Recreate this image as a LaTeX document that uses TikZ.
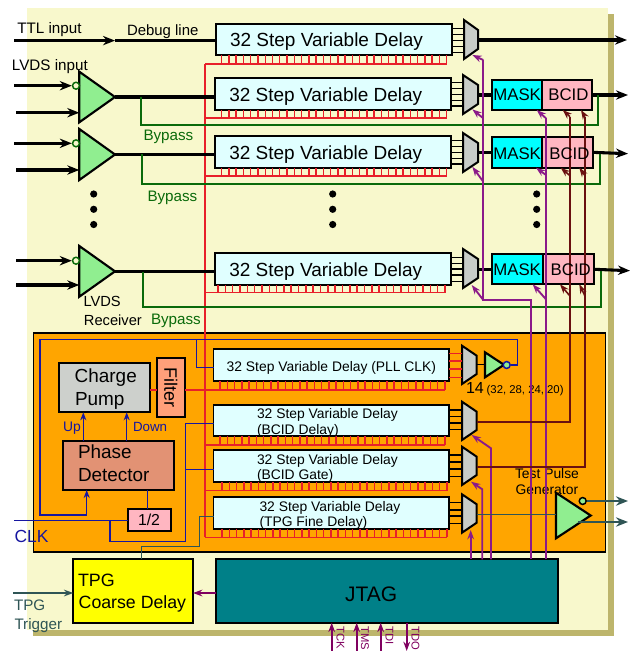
\documentclass[tikz,border=0pt]{standalone}
\usepackage{fontspec}
\setmainfont{Liberation Sans}
\usetikzlibrary{arrows.meta,calc}
\definecolor{bgy}{HTML}{F8F8CC}
\definecolor{khak}{HTML}{BDB56C}
\definecolor{orng}{HTML}{FFA500}
\definecolor{dly}{HTML}{E0FFFF}
\definecolor{muxg}{HTML}{C8CCC8}
\definecolor{lgr}{HTML}{90EE90}
\definecolor{pnk}{HTML}{FFB6C1}
\definecolor{flt}{HTML}{FFA07A}
\definecolor{phs}{HTML}{E29274}
\definecolor{pump}{HTML}{CDD0CC}
\definecolor{redw}{HTML}{E8202A}
\definecolor{grnw}{HTML}{0A6A0A}
\definecolor{navyw}{HTML}{1616A0}
\definecolor{purw}{HTML}{8B1A89}
\definecolor{purd}{HTML}{800060}
\definecolor{brnw}{HTML}{6A1010}
\definecolor{slat}{HTML}{2F5555}
\definecolor{cyn}{HTML}{00FFFF}
\definecolor{tealj}{HTML}{008088}
\definecolor{yel}{HTML}{FFFF00}
\newcommand{\fsz}[1]{\fontsize{#1}{#1}\selectfont}
\tikzset{
  x=0.75pt,y=-0.75pt,
  tbox/.style={draw=black,line width=1.3pt,inner sep=0pt,outer sep=0pt},
  tlab/.style={inner sep=0pt,outer sep=0pt,anchor=base west,text=black},
  bigw/.style={draw=black,line width=2.3pt},
  bigarr/.style={bigw,-{Stealth[length=9pt,width=7pt]}},
  rline/.style={draw=redw,line width=1.1pt},
  gline/.style={draw=grnw,line width=1.4pt},
  nline/.style={draw=navyw,line width=1.1pt},
  narr/.style={nline,-{Stealth[length=6pt,width=4.5pt]}},
  pline/.style={draw=purw,line width=1.4pt},
  parr/.style={pline,-{Stealth[length=7pt,width=5pt]}},
  bline/.style={draw=brnw,line width=1.2pt},
  barr/.style={bline,-{Stealth[length=7pt,width=5pt]}},
  sline/.style={draw=slat,line width=1.1pt},
  muxline/.style={draw=black,line width=0.9pt},
  muxshape/.style={draw=black,line width=1.5pt,fill=muxg,line join=miter},
  tri/.style={draw=black,line width=1.6pt,fill=lgr,line join=miter},
  dotn/.style={circle,fill=black,inner sep=0pt,minimum size=5.4pt},
}
\newcommand{\pbox}[6]{\node[tbox,#6,minimum width={(#4-#2)*0.75pt},minimum height={(#5-#3)*0.75pt}] (#1) at ({(#2+#4)/2},{(#3+#5)/2}) {};}
\newcommand{\muxn}[5]{\node[inner sep=0pt,outer sep=0pt,minimum width={(#3-#2)*0.75pt},minimum height={(#5-#4)*0.75pt}] (#1) at ({(#2+#3)/2},{(#4+#5)/2}) {};
  \draw[muxshape] (#2,#4) -- (#3,{#4+10}) -- (#3,{#5-10}) -- (#2,#5) -- cycle;}
\newcommand{\trin}[5]{\node[inner sep=0pt,outer sep=0pt,minimum width={(#3-#2)*0.75pt},minimum height={(#5-#4)*0.75pt}] (#1) at ({(#2+#3)/2},{(#4+#5)/2}) {};
  \draw[tri] (#2,#4) -- (#3,{(#4+#5)/2}) -- (#2,#5) -- cycle;}
\newcommand{\ladder}[4]{\foreach \i in {0,...,31}{\pgfmathsetmacro\xx{#3+\i*(#4-#3)/31}\draw[rline] (\xx,0 |- #1.south) -- (\xx,#2);}}
\newcommand{\tl}[5]{\node[tlab,#4] (#1) at (#2,#3) {#5};}
\newcommand{\bub}[4]{\node[circle,draw=#4,fill=#2,line width=1.1pt,inner sep=0pt,minimum size=5.2pt] (#1) at #3 {};}
\begin{document}
\begin{tikzpicture}
\useasboundingbox (0,0) rectangle (636,651);
\fill[white] (0,0) rectangle (636,651);
% panels
\fill[khak] (33,14) rectangle (614,636);
\fill[bgy] (27,8) rectangle (608,630);
\pbox{pll}{33.3}{333}{605.7}{552}{fill=orng,line width=1pt}
% coordinates
\coordinate (ttop) at (205,64);
\coordinate (tbot) at (205,537.3);
% delay boxes
\pbox{d1}{216}{24}{452}{55}{fill=dly}
\pbox{d2}{215}{78}{451}{110}{fill=dly}
\pbox{d3}{215}{136}{451}{168}{fill=dly}
\pbox{d4}{215}{253}{451}{285}{fill=dly}
\pbox{dp}{213.5}{349.3}{449.3}{381}{fill=dly}
\pbox{db}{213.5}{405}{449.3}{436.3}{fill=dly}
\pbox{dg}{213.5}{450.3}{449.3}{482.3}{fill=dly}
\pbox{dt}{213.5}{497.3}{449.3}{529.3}{fill=dly}
% red clock distribution
\draw[rline] (ttop) -- (tbot);
\foreach \n/\yy/\xa/\xb in {d1/64/221.7/446.7,d2/118/221.7/446.7,d3/176/221.7/446.7,d4/292.7/218/445,dp/390/220/445,db/445/220/445,dg/490.7/222/447,dt/537.3/222/447}{
  \ladder{\n}{\yy}{\xa}{\xb}
  \draw[rline] (ttop |- 0,\yy) -- (\xb,\yy);
}
% muxes
\muxn{m1}{464}{478}{20}{59}
\muxn{m2}{463}{478}{75}{114}
\muxn{m3}{463}{478}{133}{172}
\muxn{m4}{463}{478}{249}{288}
\muxn{mp}{462}{476.7}{345.7}{384}
\muxn{mb}{462}{476.7}{401.7}{440}
\muxn{mg}{462}{476.7}{446.7}{485}
\muxn{mt}{462}{476.7}{494.3}{532.7}
\foreach \yy in {28.5,34.5,40.3,46.2,52.3}{\draw[muxline] (d1.east |- 0,\yy) -- (m1.west |- 0,\yy);}
\foreach \yy in {82.5,88.5,94.3,100.2,106}{\draw[muxline] (d2.east |- 0,\yy) -- (m2.west |- 0,\yy);}
\foreach \yy in {140.5,146.5,152.3,158.2,164}{\draw[muxline] (d3.east |- 0,\yy) -- (m3.west |- 0,\yy);}
\foreach \yy in {257.7,263.3,269,275,281.5}{\draw[muxline] (d4.east |- 0,\yy) -- (m4.west |- 0,\yy);}
\foreach \yy in {353.3,361,369,377.3}{\draw[rline] (dp.east |- 0,\yy) -- (mp.west |- 0,\yy);}
\foreach \yy in {410,416.5,423,429.5}{\draw[muxline] (db.east |- 0,\yy) -- (mb.west |- 0,\yy);}
\foreach \yy in {455,462,469,476.7}{\draw[muxline] (dg.east |- 0,\yy) -- (mg.west |- 0,\yy);}
\foreach \yy in {502.7,510,516,523.5}{\draw[muxline] (dt.east |- 0,\yy) -- (mt.west |- 0,\yy);}
% mask / bcid
\pbox{ma2}{491.7}{80}{541.7}{110}{fill=cyn}
\pbox{bc2}{541.7}{80}{592.3}{110}{fill=pnk}
\pbox{ma3}{491.7}{137}{541.7}{167.7}{fill=cyn}
\pbox{bc3}{541.7}{137}{593.3}{167.7}{fill=pnk}
\pbox{ma4}{491.7}{254.3}{542.7}{284.3}{fill=cyn}
\pbox{bc4}{542.7}{254.3}{594}{284.3}{fill=pnk}
% output wires
\coordinate (o1) at (627,40);
\coordinate (o2) at (628,95);
\coordinate (o3) at (628,153.7);
\coordinate (o4) at (630,270.7);
\draw[bigarr] (m1.east |- o1) -- (o1);
\draw[bigw] (m2.east |- bc2.east) -- (ma2.west);
\draw[bigw] (m3.east |- bc3.east) -- (ma3.west);
\draw[bigw] (m4.east |- bc4.east) -- (ma4.west);
\draw[bigarr] (bc2.east) -- (o2);
\draw[bigarr] (bc3.east) -- (o3);
\draw[bigarr] (bc4.east) -- (o4);
% drivers
\trin{dr2}{79.3}{115}{71.7}{122.3}
\trin{dr3}{79.3}{115}{129}{180}
\trin{dr4}{79.3}{115}{246}{296.7}
\draw[bigw] (dr2.east) -- (d2.west |- dr2.east);
\draw[bigw] (dr3.east) -- (d3.west |- dr3.east);
\draw[bigw] (dr4.east) -- (d4.west |- dr4.east);
\bub{bu2}{bgy}{(76,85.7)}{grnw}
\bub{bu3}{bgy}{(76,143.3)}{grnw}
\bub{bu4}{bgy}{(76,260.7)}{grnw}
\coordinate (i1) at (14,40.6);
\coordinate (i1m) at (115,40.6);
\draw[bigarr] (i1) -- (i1m);
\draw[bigw] (i1m) -- (d1.west |- i1m);
\foreach \ya/\xa/\yb/\xb/\nb/\dr in {85.7/14/112.7/16/bu2/dr2,143.3/14/170/16/bu3/dr3,260.7/16/285/16/bu4/dr4}{
  \coordinate (ia) at (\xa,\ya);
  \coordinate (ib) at (\xb,\yb);
  \draw[bigarr] (ia) -- (\nb.west);
  \draw[bigarr] (ib) -- (\dr.west |- ib);
}
% bypass
\coordinate (b2a) at (141,96.7);
\coordinate (b2b) at (598.3,125.3);
\coordinate (b3a) at (142.3,154.3);
\coordinate (b3b) at (600,184.3);
\coordinate (b4a) at (143,271.7);
\coordinate (b4b) at (601,306.7);
\draw[gline] (b2a) |- (b2b) -- (b2b |- o2);
\draw[gline] (b3a) |- (b3b) -- (b3b |- o3);
\draw[gline] (b4a) |- (b4b) -- (b4b |- o4);
% dots
\foreach \xx/\k in {93.7/a,332.7/b,536.7/c}{
  \node[dotn] (dot\k1) at (\xx,194) {};
  \node[dotn] (dot\k2) at (\xx,209.3) {};
  \node[dotn] (dot\k3) at (\xx,224.5) {};
}
% PLL block contents
\pbox{cp}{59.3}{362.7}{150}{412.3}{fill=pump}
\pbox{filt}{156.7}{357.7}{185}{417.3}{fill=flt}
\pbox{pd}{62.7}{440.7}{173.7}{490}{fill=phs}
\pbox{half}{127.7}{509.3}{171}{530.7}{fill=pnk}
\pbox{tc}{73.3}{559.3}{193}{623.3}{fill=yel}
\pbox{jt}{216.3}{559.3}{558.3}{622.7}{fill=tealj}
\draw[rline] (cp.east |- 0,390) -- (filt.west |- 0,390);
\draw[rline] (filt.east |- 0,390) -- (ttop |- 0,390);
\draw[narr] (pd.north -| 83.3,0) -- (cp.south -| 83.3,0);
\draw[narr] (pd.north -| 126.7,0) -- (cp.south -| 126.7,0);
\draw[nline] (half.north -| 147.3,0) -- (pd.south -| 147.3,0);
% labels under the purple lines
\tl{lgen1}{515}{478.3}{font=\fsz{10.4}}{Test Pulse}
\tl{lgen2}{515.7}{494}{font=\fsz{10.4}}{Generator}
\tl{l14}{466}{393.3}{font=\fsz{12}}{14}
\tl{lbits}{486.7}{393.3}{font=\fsz{8.5}}{(32, 28, 24, 20)}
% clock wiring
\trin{bf}{485}{504}{352.3}{377.3}
\bub{bub}{lgr}{(506.7,365)}{navyw}
\draw[muxline] (mp.east |- bf.west) -- (bf.west);
\coordinate (lt) at (40,339.3);
\coordinate (rt) at (517.7,339.3);
\coordinate (lb) at (40,515);
\draw[narr] (bub.east) -| (rt) -- (lt) -- (lb) -| (pd.south -| 86.7,0);
\draw[nline] (196.7,339.3) |- (dp.west |- 0,367.7);
\coordinate (clk) at (14,520.7);
\coordinate (ck1) at (110,520.7);
\coordinate (ck2) at (185.7,541.7);
\draw[nline] (clk) -- (half.west |- clk);
\draw[nline] (ck1) |- (ck2) |- (db.west |- 0,423.3);
\draw[nline] (ck2 |- 0,469.3) -- (dg.west |- 0,469.3);
% TPG
\coordinate (tp1) at (141.7,546.7);
\coordinate (tp2) at (199.3,516.7);
\draw[sline] (tc.north -| tp1) -- (tp1) -| (tp2) -- (dt.west |- tp2);
\coordinate (trg) at (13,593);
\draw[sline,-{Stealth[length=7pt,width=5pt]}] (trg) -- (tc.west |- trg);
\draw[draw=purd,line width=1.2pt,-{Stealth[length=7pt,width=5pt]}] (jt.west |- trg) -- (tc.east |- trg);
% JTAG bottom pins
\foreach \xx in {331.7,356.7,380.7}{\draw[draw=purd,line width=1.2pt,-{Stealth[length=7pt,width=5pt]}] (\xx,651) -- (jt.south -| \xx,0);}
\draw[draw=purd,line width=1.2pt,-{Stealth[length=7pt,width=5pt]}] (jt.south -| 406.7,0) -- (406.7,651);
% purple select lines
\coordinate (pa) at (483.3,300);
\coordinate (pb) at (530.7,300);
\draw[pline] (jt.north -| pb) -- (pb) -- (pa) -- (483.3,60);
\draw[parr] (483.3,60) -- (472.3,55);
\draw[parr] (483.3,118.3) -- (472.3,109.3);
\draw[parr] (483.3,181.7) -- (472.3,166.7);
\draw[parr] (pa) -- (471.7,285);
\draw[pline] (jt.north -| 546,0) -- (546,118.3);
\draw[parr] (546,118.3) -- (ma2.south -| 536.7,0);
\draw[parr] (546,175) -- (ma3.south -| 536,0);
\draw[parr] (546,299.3) -- (ma4.south -| 532.7,0);
\draw[parr] (jt.north -| 491,0) -- (491,448.3) -- (471.7,435);
\draw[parr] (jt.north -| 482.3,0) -- (482.3,489.3) -- (471,481.7);
\draw[parr] (jt.north -| 470.7,0) -- (470.7,530);
% brown gate lines
\draw[bline] (mb.east |- 0,421.7) -| (570,116.7);
\draw[bline] (mg.east |- 0,466.7) -| (585,116.7);
\draw[barr] (570,116.7) -- (bc2.south -| 562.7,0);
\draw[barr] (585,116.7) -- (bc2.south -| 581,0);
\draw[barr] (570,175.7) -- (bc3.south -| 560.7,0);
\draw[barr] (585,175.7) -- (bc3.south -| 579.3,0);
\draw[barr] (570,296) -- (bc4.south -| 560,0);
\draw[barr] (585,296) -- (bc4.south -| 579.3,0);
% test pulse generator
\trin{tp}{556}{590.7}{492.7}{538.3}
\draw[sline] (mt.east |- 0,514.3) -- (tp.west |- 0,514.3);
\bub{tpb}{lgr}{(582.7,501)}{black}
\coordinate (to1) at (628,501);
\coordinate (to2) at (628,522);
\coordinate (to2a) at (578,522);
\draw[draw=slat,line width=2.2pt,-{Stealth[length=9pt,width=7pt]}] (tpb.east) -- (to1);
\draw[draw=slat,line width=2.2pt,-{Stealth[length=9pt,width=7pt]}] (to2a) -- (to2);
% labels
\tl{lttl}{17.3}{33.3}{font=\fsz{11.4}}{TTL input}
\tl{ldbg}{127}{35}{font=\fsz{11.2}}{Debug line}
\tl{llvds}{12}{70}{font=\fsz{11.4}}{LVDS input}
\tl{ld1}{230}{46.7}{font=\fsz{14.25}}{32 Step Variable Delay}
\tl{ld2}{229.3}{101.7}{font=\fsz{14.25}}{32 Step Variable Delay}
\tl{ld3}{229.3}{159.3}{font=\fsz{14.25}}{32 Step Variable Delay}
\tl{ld4}{229.3}{276.7}{font=\fsz{14.25}}{32 Step Variable Delay}
\tl{ldp}{226.7}{371}{font=\fsz{10.4}}{32 Step Variable Delay (PLL CLK)}
\tl{ldb1}{257}{418.3}{font=\fsz{10.4}}{32 Step Variable Delay}
\tl{ldb2}{257}{434}{font=\fsz{10.4}}{(BCID Delay)}
\tl{ldg1}{257}{464}{font=\fsz{10.4}}{32 Step Variable Delay}
\tl{ldg2}{257}{479.3}{font=\fsz{10.4}}{(BCID Gate)}
\tl{ldt1}{259.5}{511}{font=\fsz{10.4}}{32 Step Variable Delay}
\tl{ldt2}{259.5}{526.7}{font=\fsz{10.4}}{(TPG Fine Delay)}
\tl{lm2}{493.3}{100.7}{font=\fsz{12.6}}{MASK}
\tl{lm3}{493.3}{159.3}{font=\fsz{12.6}}{MASK}
\tl{lm4}{493.3}{275}{font=\fsz{12.6}}{MASK}
\tl{lb2}{548.3}{100.7}{font=\fsz{12.6}}{BCID}
\tl{lb3}{549.3}{159.3}{font=\fsz{12.6}}{BCID}
\tl{lb4}{550.7}{275}{font=\fsz{12.6}}{BCID}
\tl{lby2}{143.5}{140.7}{font=\fsz{11.4},text=grnw}{Bypass}
\tl{lby3}{147.5}{201.7}{font=\fsz{11.4},text=grnw}{Bypass}
\tl{lby4}{151}{324}{font=\fsz{11.4},text=grnw}{Bypass}
\tl{lrc1}{83.5}{306.7}{font=\fsz{11}}{LVDS}
\tl{lrc2}{84}{325.3}{font=\fsz{11}}{Receiver}
\tl{lcp1}{74.7}{382.7}{font=\fsz{14.2}}{Charge}
\tl{lcp2}{75}{405.7}{font=\fsz{14.2}}{Pump}
\node[inner sep=0pt,font=\fsz{13.5},rotate=-90] (lfl) at (filt.center) {Filter};
\tl{lup}{63}{431}{font=\fsz{10.4},text=navyw}{Up}
\tl{ldn}{133}{431}{font=\fsz{10},text=navyw}{Down}
\tl{lpd1}{78}{458.3}{font=\fsz{14.2}}{Phase}
\tl{lpd2}{78}{481}{font=\fsz{14.2}}{Detector}
\tl{lhf}{138}{525.7}{font=\fsz{11.9}}{1/2}
\tl{lclk}{14.5}{542.3}{font=\fsz{13.1},text=navyw}{CLK}
\tl{ltc1}{78}{586.7}{font=\fsz{13.4}}{TPG}
\tl{ltc2}{78.7}{608.3}{font=\fsz{13.3}}{Coarse Delay}
\tl{ltr1}{14}{610}{font=\fsz{11.4},text=slat}{TPG}
\tl{ltr2}{14.5}{629}{font=\fsz{11.4},text=slat}{Trigger}
\tl{ljt}{345}{601}{font=\fsz{15.75}}{JTAG}
\foreach \xx/\tt/\nn in {336.5/TCK/a,361/TMS/b,385.5/TDI/c,411.5/TDO/d}{
  \node[inner sep=0pt,anchor=base west,rotate=-90,font=\fsz{8.4},text=purd] (pin\nn) at (\xx,626) {\tt};
}
\end{tikzpicture}
\end{document}
